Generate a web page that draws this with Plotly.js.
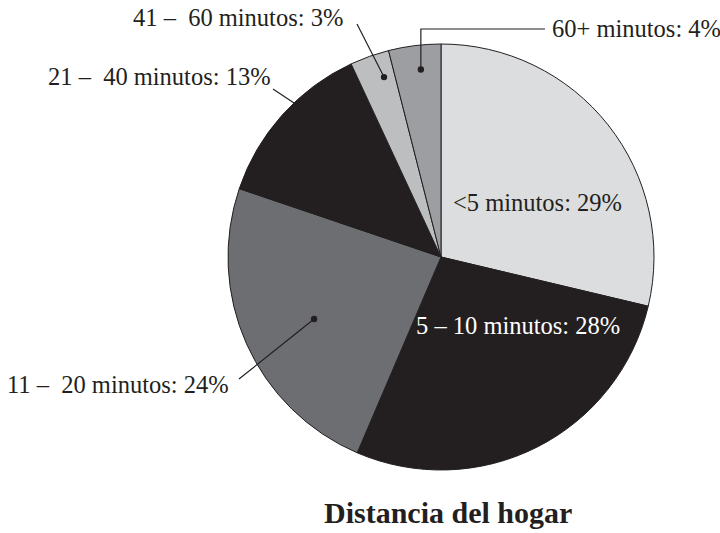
<!DOCTYPE html>
<html>
<head>
<meta charset="utf-8">
<script src="https://cdn.plot.ly/plotly-3.0.1.min.js"></script>
<style>html,body{margin:0;padding:0;background:#fff;}#chart{width:720px;height:533px;}</style>
</head>
<body>
<div id="chart"></div>
<script>
// ---- data ----
const categories = ['<5 minutos', '5 – 10 minutos', '11 – 20 minutos', '21 – 40 minutos', '41 – 60 minutos', '60+ minutos'];
const displayNames = ['<5 minutos', '5 – 10 minutos', '11 –\u00a0 20 minutos', '21 –\u00a0 40 minutos', '41 –\u00a0 60 minutos', '60+ minutos'];
const values = [29, 28, 24, 13, 3, 4];
const chartTitle = 'Distancia del hogar';

// ---- style ----
const colors = ['#dcddde', '#231f20', '#6d6e71', '#231f20', '#bcbec0', '#9c9ea1'];
const ink = '#231f20';
const W = 720, H = 533;
const cx = 441, cy = 257, R = 213;
const fontFam = 'Liberation Serif, serif';
const fs = 24.5;

// label placement (style), pixel positions
const labelStyle = {
  0: {inside: true, x: 537, y: 202, color: ink},
  1: {inside: true, x: 518, y: 325, color: '#ffffff'},
  2: {x: 231, y: 384, xanchor: 'right', start: [239, 379], frac: 0.477, rf: 0.663},
  3: {x: 273, y: 76, xanchor: 'right', start: [273, 89], frac: 0.63, rf: 0.89},
  4: {x: 345, y: 17, xanchor: 'right', start: [357, 24], frac: 0.69, rf: 0.886},
  5: {x: 550, y: 28, xanchor: 'left', elbowY: 29, elbowX: 545, frac: 0.57, rf: 0.885}
};

const total = values.reduce((a, b) => a + b, 0);
const starts = [];
let acc = 0;
values.forEach(v => { starts.push(acc / total * 360); acc += v; });

function pt(angDeg, r) {
  const a = angDeg * Math.PI / 180;
  return [cx + r * Math.sin(a), cy - r * Math.cos(a)];
}
const px = x => x / W;
const py = y => 1 - y / H;

const pie = {
  type: 'pie',
  values: values,
  labels: categories,
  sort: false,
  direction: 'clockwise',
  rotation: 0,
  textinfo: 'none',
  hoverinfo: 'none',
  marker: {colors: colors, line: {color: ink, width: 1}},
  domain: {x: [(cx - R) / W, (cx + R) / W], y: [(H - cy - R) / H, (H - cy + R) / H]},
  showlegend: false
};

const shapes = [];
const annotations = [];

values.forEach((v, i) => {
  const st = labelStyle[i];
  const txt = displayNames[i] + ': ' + v + '%';
  if (st.inside) {
    annotations.push({xref: 'paper', yref: 'paper', x: px(st.x), y: py(st.y), text: txt, showarrow: false,
      xanchor: 'center', yanchor: 'middle', font: {family: fontFam, size: fs, color: st.color}});
    return;
  }
  const ang = starts[i] + st.frac * (v / total * 360);
  const dot = pt(ang, st.rf * R);
  let path;
  if (st.elbowY !== undefined) {
    path = `M${px(dot[0])},${py(dot[1])} L${px(dot[0])},${py(st.elbowY)} L${px(st.elbowX)},${py(st.elbowY)}`;
  } else {
    path = `M${px(st.start[0])},${py(st.start[1])} L${px(dot[0])},${py(dot[1])}`;
  }
  shapes.push({type: 'path', xref: 'paper', yref: 'paper', path: path, layer: 'above',
    line: {color: ink, width: 1.2}});
  shapes.push({type: 'circle', xref: 'paper', yref: 'paper', xsizemode: 'pixel', ysizemode: 'pixel',
    xanchor: px(dot[0]), yanchor: py(dot[1]), x0: -3.2, x1: 3.2, y0: -3.2, y1: 3.2, layer: 'above',
    fillcolor: ink, line: {color: ink, width: 0}});
  annotations.push({xref: 'paper', yref: 'paper', x: px(st.x), y: py(st.y), text: txt, showarrow: false,
    xanchor: st.xanchor, yanchor: 'middle', font: {family: fontFam, size: fs, color: ink}});
});

annotations.push({xref: 'paper', yref: 'paper', x: px(448), y: py(512), text: '<b>' + chartTitle + '</b>', showarrow: false,
  xanchor: 'center', yanchor: 'middle', font: {family: fontFam, size: 30, color: ink}});

const layout = {
  width: W, height: H,
  margin: {l: 0, r: 0, t: 0, b: 0},
  paper_bgcolor: '#ffffff', plot_bgcolor: 'rgba(0,0,0,0)',
  shapes: shapes,
  annotations: annotations,
  showlegend: false
};

Plotly.newPlot('chart', [pie], layout, {displayModeBar: false, staticPlot: true});
</script>
</body>
</html>
